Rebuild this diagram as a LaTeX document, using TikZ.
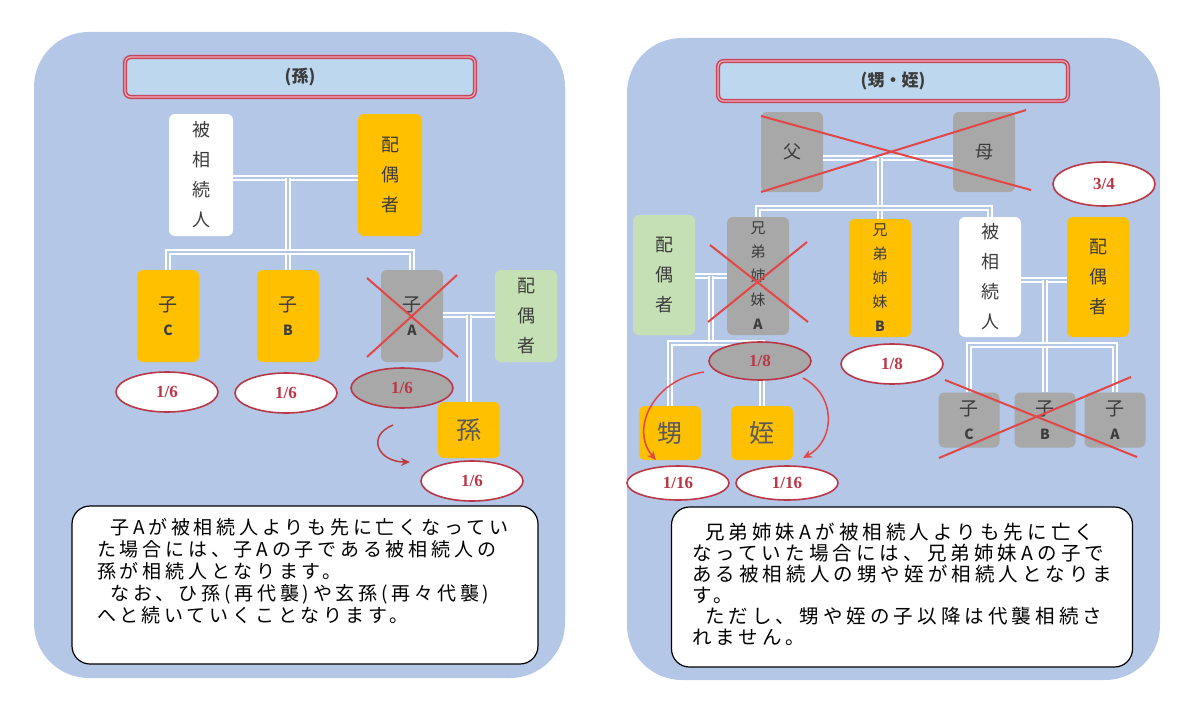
\documentclass[tikz,border=0pt]{standalone}
\usepackage{fontspec}
\setmainfont{Liberation Sans}
\newfontfamily\jp{Noto Sans CJK JP}
\newfontfamily\jpbodyL[LetterSpace=20]{Noto Sans CJK JP}
\newfontfamily\jpbodyR[LetterSpace=21]{Noto Sans CJK JP}
\newfontfamily\numf{Liberation Serif}
\usetikzlibrary{shapes.geometric,arrows.meta}
\definecolor{panel}{RGB}{180,199,231}
\definecolor{titlefill}{RGB}{189,215,238}
\definecolor{titlered}{RGB}{200,70,90}
\definecolor{titlepink}{RGB}{240,170,185}
\definecolor{orangebox}{RGB}{255,192,0}
\definecolor{greybox}{RGB}{168,168,168}
\definecolor{greenbox}{RGB}{197,224,180}
\definecolor{xred}{RGB}{226,70,70}
\definecolor{ellred}{RGB}{185,55,70}
\definecolor{txt}{RGB}{60,60,60}
\tikzset{
  panelbox/.style={fill=panel, rounded corners=55pt},
  titlebox/.style={draw=titlered, line width=1.5pt, double=titlepink, double distance=1.2pt,
    fill=titlefill, rounded corners=6pt, minimum width=350pt, minimum height=40pt,
    font=\jp\bfseries\fontsize{17}{20}\selectfont, text=txt},
  person/.style={rounded corners=6pt, inner sep=0pt, align=center, text=txt},
  obox/.style={person, fill=orangebox},
  gbox/.style={person, fill=greybox},
  wbox/.style={person, fill=white},
  grbox/.style={person, fill=greenbox},
  bx/.style 2 args={minimum width=#1pt, minimum height=#2pt},
  vA/.style={font=\jp\fontsize{18}{30}\selectfont},
  vB/.style={font=\jp\fontsize{15}{24}\selectfont},
  vK/.style={font=\jp\fontsize{19}{24}\selectfont},
  big/.style={font=\jp\fontsize{25}{28}\selectfont, text=black!65},
  share/.style={ellipse, draw=ellred, line width=1.6pt, fill=white, minimum width=102pt,
    minimum height=40pt, inner sep=0pt, text=ellred, font=\numf\bfseries\fontsize{17}{19}\selectfont},
  dbl/.style={draw=white, line width=2pt, double=panel, double distance=2pt},
  cross/.style={draw=xred, line width=2pt},
  turn/.style={draw=xred!85!black, line width=1.5pt, -{Stealth[length=9pt,width=8pt]}},
  note/.style={draw=black, line width=1.2pt, fill=white, rounded corners=18pt}
}
\newcommand{\ltr}[1]{{\fontsize{14}{14}\selectfont\bfseries #1}}
\newcommand{\ind}{\hspace*{13pt}}
\begin{document}
\begin{tikzpicture}[x=1pt,y=-1pt]
\useasboundingbox (0,0) rectangle (1200,725);
\fill[white] (0,0) rectangle (1200,725);
% panels
\fill[panelbox] (34,32) rectangle (565,678);
\fill[panelbox] (627,38) rectangle (1160,680);

% ===== left panel =====
\node[titlebox] (Ltitle) at (300,77) {(孫)};
\node[wbox, bx={64}{122}, vA] (Lhi) at (201,175) {被\\相\\続\\人};
\node[obox, bx={64}{122}, vA] (Lsp) at (390,175) {配\\偶\\者};
\node[obox, bx={62}{92}, vK] (LcC) at (168,316) {子\\\ltr{C}};
\node[obox, bx={62}{92}, vK] (LcB) at (288,316) {子\\\ltr{B}};
\node[gbox, bx={62}{92}, vK] (LcA) at (412,316) {子\\\ltr{A}};
\node[grbox, bx={62}{92}, vA] (Lsp2) at (526,316) {配\\偶\\者};
\node[obox, bx={62}{56}, big] (Lgc) at (469,430) {孫};

\coordinate (Lj) at (288,178);
\coordinate (Lb) at (288,252);
\draw[dbl] (Lhi.east |- Lj) -- (Lsp.west |- Lj);
\draw[dbl] (Lj) -- (LcB.north);
\draw[dbl] (LcC.north) -- (LcC.north |- Lb) -- (LcA.north |- Lb) -- (LcA.north);
\coordinate (Lk) at (469,315);
\draw[dbl] (LcA.east |- Lk) -- (Lsp2.west |- Lk);
\draw[dbl] (Lk) -- (Lgc.north);

\node[share] (Le1) at (167,392) {1/6};
\node[share] (Le2) at (286,393) {1/6};
\node[share, fill=greybox] (Le3) at (402,388) {1/6};
\node[share] (Le4) at (472,481) {1/6};

\draw[cross] (367,278) -- (458,357);
\draw[cross] (457,275) -- (367,357);

\coordinate (LaS) at (393,425);
\coordinate (LaE) at (410,462);
\draw[turn] (LaS) .. controls (366,436) and (378,462) .. (LaE);

\node[note, minimum width=466pt, minimum height=158pt] (Lnote) at (305,585) {};
\node[anchor=north west, inner sep=0pt, align=left,
  font=\jpbodyL\fontsize{19}{22}\selectfont] (Ltext) at (97,518)
  {\ind 子Aが被相続人よりも先に亡くなってい\\
   た場合には、子Aの子である被相続人の\\
   孫が相続人となります。\\
   \ind なお、ひ孫(再代襲)や玄孫(再々代襲)\\
   へと続いていくことなります。};

% ===== right panel =====
\node[titlebox] (Rtitle) at (893,81) {(甥・姪)};
\node[gbox, bx={62}{80}, vA] (Rfa) at (792,152) {父};
\node[gbox, bx={62}{80}, vA] (Rmo) at (984,152) {母};
\node[grbox, bx={62}{120}, vA] (Rsp1) at (664,275) {配\\偶\\者};
\node[gbox, bx={62}{118}, vB] (RsA) at (758,276) {兄\\弟\\姉\\妹\\\ltr{A}};
\node[obox, bx={62}{118}, vB] (RsB) at (880,278) {兄\\弟\\姉\\妹\\\ltr{B}};
\node[wbox, bx={62}{120}, vA] (Rhi) at (990,277) {被\\相\\続\\人};
\node[obox, bx={62}{120}, vA] (Rsp2) at (1098,277) {配\\偶\\者};
\node[obox, bx={62}{54}, big] (Rnep) at (670,433) {甥};
\node[obox, bx={62}{54}, big] (Rnie) at (762,433) {姪};
\node[gbox, bx={61}{55}, vK] (RkC) at (969,420) {子\\\ltr{C}};
\node[gbox, bx={61}{55}, vK] (RkB) at (1045,420) {子\\\ltr{B}};
\node[gbox, bx={61}{55}, vK] (RkA) at (1115,420) {子\\\ltr{A}};

\coordinate (Rj) at (880,158);
\coordinate (Rb) at (880,208);
\draw[dbl] (Rfa.east |- Rj) -- (Rmo.west |- Rj);
\draw[dbl] (Rj) -- (RsB.north);
\draw[dbl] (RsA.north) -- (RsA.north |- Rb) -- (Rhi.north |- Rb) -- (Rhi.north);
\coordinate (Rk) at (711,276);
\coordinate (Rkb) at (711,343);
\draw[dbl] (Rsp1.east |- Rk) -- (RsA.west |- Rk);
\draw[dbl] (Rk) -- (Rkb);
\draw[dbl] (Rnep.north) -- (Rnep.north |- Rkb) -- (Rnie.north |- Rkb) -- (Rnie.north);
\coordinate (Rm) at (1045,280);
\coordinate (Rmb) at (1045,345);
\draw[dbl] (Rhi.east |- Rm) -- (Rsp2.west |- Rm);
\draw[dbl] (Rm) -- (RkB.north);
\draw[dbl] (RkC.north) -- (RkC.north |- Rmb) -- (RkA.north |- Rmb) -- (RkA.north);

\node[share, minimum height=44pt] (Re0) at (1104,184) {3/4};
\node[share, fill=greybox, minimum height=38pt] (Re1) at (760,361) {1/8};
\node[share] (Re2) at (892,364) {1/8};
\node[share, minimum height=34pt] (Re3) at (678,483) {1/16};
\node[share, minimum height=34pt] (Re4) at (787,483) {1/16};

\draw[cross] (761,116) -- (1031,190);
\draw[cross] (1026,110) -- (761,192);
\draw[cross] (710,245) -- (808,322);
\draw[cross] (807,242) -- (708,322);
\draw[cross] (945,380) -- (1137,457);
\draw[cross] (1131,377) -- (939,458);

\coordinate (RaS1) at (704,372);
\coordinate (RaE1) at (656,460);
\draw[turn, draw=xred] (RaS1) .. controls (652,380) and (630,430) .. (RaE1);
\coordinate (RaS2) at (803,378);
\coordinate (RaE2) at (803,458);
\draw[turn, draw=xred] (RaS2) .. controls (836,395) and (836,440) .. (RaE2);

\node[note, minimum width=461pt, minimum height=160pt] (Rnote) at (902,587) {};
\node[anchor=north west, inner sep=0pt, align=left,
  font=\jpbodyR\fontsize{19.5}{21}\selectfont] (Rtext) at (692,523)
  {\ind 兄弟姉妹Aが被相続人よりも先に亡く\\
   なっていた場合には、兄弟姉妹Aの子で\\
   ある被相続人の甥や姪が相続人となりま\\
   す。\\
   \ind ただし、甥や姪の子以降は代襲相続さ\\
   れません。};
\end{tikzpicture}
\end{document}
